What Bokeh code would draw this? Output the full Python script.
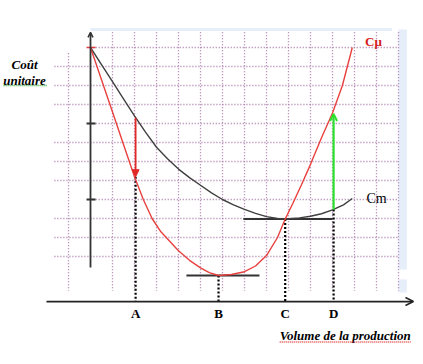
from bokeh.plotting import figure
from bokeh.models import Arrow, NormalHead, OpenHead, Range1d
from bokeh.core.properties import value
from bokeh.embed import file_html
from bokeh.resources import INLINE

# ---------------- data (grid units) ----------------
# marginal cost curve C\u03bc
cmu_x = [0, 0.5, 1.0, 1.5, 2.0, 2.4, 2.8, 3.2, 3.6, 4.0, 4.5, 5.0, 5.4, 5.82,
         6.4, 7.0, 7.5, 8.0, 8.5, 8.85, 9.2, 9.6, 10.0, 10.5, 11.0, 11.45, 11.9]
cmu_y = [12.0, 10.3, 8.6, 6.9, 5.2, 4.0, 3.0, 2.3, 1.8, 1.3, 0.8, 0.4, 0.15, 0.0,
         0.05, 0.2, 0.5, 1.05, 2.0, 2.97, 3.8, 4.8, 5.85, 7.25, 8.55, 10.0, 12.0]
# average cost curve Cm
cm_x = [0, 0.5, 1.0, 1.5, 2.0, 2.5, 3.0, 3.5, 4.0, 4.5, 5.0, 5.5, 6.0, 6.5,
        7.0, 7.5, 8.0, 8.5, 8.85, 9.5, 10.0, 10.5, 11.0, 11.5, 11.9]
cm_y = [12.0, 11.1, 10.2, 9.3, 8.4, 7.55, 6.75, 6.15, 5.6, 5.15, 4.75, 4.35, 4.0, 3.72,
        3.48, 3.27, 3.1, 3.0, 2.97, 3.03, 3.12, 3.25, 3.45, 3.72, 4.05]

point_labels = ["A", "B", "C", "D"]
point_x = [2.05, 5.82, 8.85, 11.05]
point_top = [5.2, 0.0, 2.97, 3.47]      # where each dotted drop line starts

arrow_a = [8.3, 5.2]     # Cm(A) -> C\u03bc(A)
arrow_d = [3.47, 8.5]    # Cm(D) -> C\u03bc(D)

b_tangent_x = [4.36, 7.68]
b_level = 0.0
c_tangent_x = [6.95, 11.0]
c_level = 2.97

y_ticks = [4, 8]
grid_cols = [-1, 1, 2, 3, 4, 5, 6, 7, 8, 9, 10, 11, 12, 13, 14]
grid_rows = [1, 2, 3, 4, 5, 6, 7, 8, 9, 10, 11, 12]

x_axis_level = -1.37

# ---------------- figure ----------------
W, H = 415, 350
x0 = -90 / 22
y1 = 275 / 19
p = figure(width=W, height=H,
           x_range=Range1d(x0, x0 + W / 22), y_range=Range1d(y1 - H / 19, y1),
           output_backend="svg", toolbar_location=None, min_border=0,
           x_axis_location=None, y_axis_location=None)
p.grid.visible = False
p.outline_line_color = None
p.background_fill_color = "white"

grid_col = "#a87aa8"
# light blue frame remnants
p.segment(x0=[0], y0=[12.95], x1=[13.7], y1=[12.95], line_color="#e6eefa", line_width=3)
p.quad(left=[14.0, 14.0], right=[14.38, 14.38], top=[12.95, -0.21], bottom=[0.32, -0.89],
       fill_color="#e6eefa", line_color=None)

# dotted grid
col_tops = [11.7 if c < 0 else 12.8 for c in grid_cols]
p.segment(x0=grid_cols, y0=col_tops, x1=grid_cols, y1=[-0.8] * len(grid_cols),
          line_color=grid_col, line_width=1.3, line_dash="1 2")
row_starts = [0.1 if r in (4, 8, 12) else -1.64 for r in grid_rows]
p.segment(x0=row_starts, y0=grid_rows, x1=[14.0] * len(grid_rows), y1=grid_rows,
          line_color=grid_col, line_width=1.3, line_dash="1 2")

# axes
p.add_layout(Arrow(end=OpenHead(size=5, line_width=1.5, line_color="#333333"),
                   x_start=0, y_start=0.42, x_end=0, y_end=12.8,
                   line_color="#333333", line_width=1.8))
p.add_layout(Arrow(end=OpenHead(size=8, line_width=1.5, line_color="#222222"),
                   x_start=-2.0, y_start=x_axis_level, x_end=14.68, y_end=x_axis_level,
                   line_color="#222222", line_width=1.8))
p.segment(x0=[-0.18] * len(y_ticks), y0=y_ticks, x1=[0.23] * len(y_ticks), y1=y_ticks,
          line_color="#333333", line_width=1.8)
p.segment(x0=[-0.18], y0=[12], x1=[0.23], y1=[12], line_color="#e03a3a", line_width=1.5)

# tangent segments
p.segment(x0=[b_tangent_x[0], c_tangent_x[0]], y0=[b_level, c_level],
          x1=[b_tangent_x[1], c_tangent_x[1]], y1=[b_level, c_level],
          line_color="#333333", line_width=2)

# dotted drop lines
p.segment(x0=point_x, y0=point_top, x1=point_x, y1=[x_axis_level] * 4,
          line_color="black", line_width=2.2, line_dash="2 2")

# curves
p.line(cm_x, cm_y, line_color="#404040", line_width=1.4)
p.line(cmu_x, cmu_y, line_color="#e8403f", line_width=1.4)

# arrows
red = "#e02828"
p.add_layout(Arrow(end=NormalHead(size=7, fill_color=red, line_color=red),
                   x_start=point_x[0], y_start=arrow_a[0], x_end=point_x[0], y_end=arrow_a[1],
                   line_color=red, line_width=1.8))
green = "#2ee02e"
p.add_layout(Arrow(end=OpenHead(size=7, line_color=green, line_width=2),
                   x_start=point_x[3], y_start=arrow_d[0], x_end=point_x[3], y_end=arrow_d[1],
                   line_color=green, line_width=2.2))

serif = value("Liberation Serif")
# point labels
p.text(x=point_x, y=[-2.0] * 4, text=point_labels, text_font=serif,
       text_font_size="13px", text_font_style="bold", text_color="black",
       text_align="center", text_baseline="middle")

# axis titles
p.text(x=[-3.0, -3.0], y=[11.1, 10.26], text=["Coût", "unitaire"], text_font=serif,
       text_font_size="13px", text_font_style="bold italic", text_color="black",
       text_align="center", text_baseline="middle")
p.segment(x0=[-3.95], y0=[10.0], x1=[-1.98], y1=[10.0], line_color="#3aa03a",
          line_width=1.3, line_dash="1 1")
p.text(x=[8.6], y=[-3.17], text=["Volume de la production"], text_font=serif,
       text_font_size="13px", text_font_style="bold italic", text_color="black",
       text_align="left", text_baseline="middle")
p.segment(x0=[8.6], y0=[-3.5], x1=[14.55], y1=[-3.5], line_color="#e04040",
          line_width=1.3, line_dash="1 1")

# curve labels
p.text(x=[12.86], y=[12.32], text=["Cμ"], text_font=serif, text_font_size="13px",
       text_font_style="bold", text_color="#d42020", text_align="center",
       text_baseline="middle")
p.text(x=[13.0], y=[4.05], text=["Cm"], text_font=serif, text_font_size="14px",
       text_color="black", text_align="center", text_baseline="middle")

open("out.html", "w").write(file_html(p, INLINE))
